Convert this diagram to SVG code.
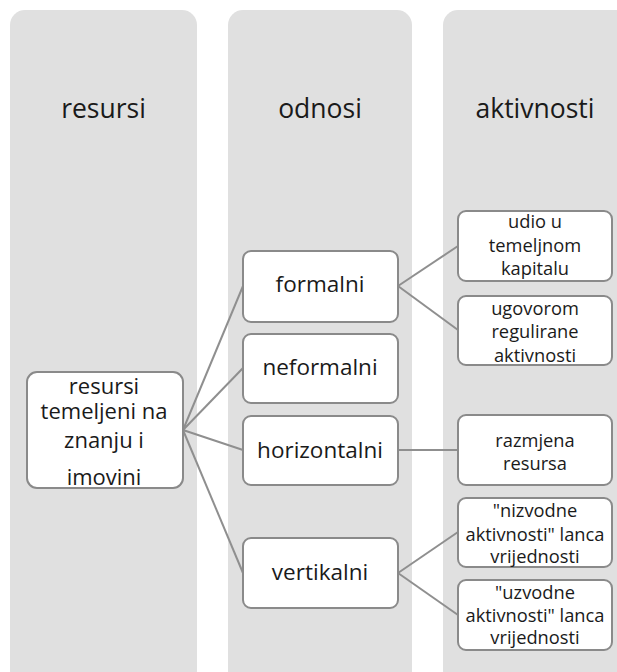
<svg xmlns="http://www.w3.org/2000/svg" width="617" height="672" viewBox="0 0 617 672">
<style>
.col{fill:#e0e0e0}
.node{fill:#ffffff;stroke:#8a8a8a;stroke-width:2}
.t{font-family:"Open Sans","Noto Sans","Liberation Sans",sans-serif;fill:#1a1a1a;text-anchor:middle}
.h{font-size:26.5px}
.r{font-size:22.5px}
.m{font-size:22px}
.s{font-size:18.3px}
.conn line{stroke:#8f8f8f;stroke-width:2}
</style>
<rect width="617" height="672" fill="#ffffff"/>
<g id="col-resursi"><rect class="col" x="10" y="10" width="187" height="675" rx="15"/><text class="t h" x="103.5" y="118">resursi</text></g>
<g id="col-odnosi"><rect class="col" x="228" y="10" width="184" height="675" rx="15"/><text class="t h" x="320" y="118">odnosi</text></g>
<g id="col-aktivnosti"><rect class="col" x="443" y="10" width="190" height="675" rx="15"/><text class="t h" x="535" y="118">aktivnosti</text></g>
<g class="conn" id="connectors">
<line x1="183" y1="430" x2="243" y2="286"/>
<line x1="183" y1="430" x2="243" y2="368"/>
<line x1="183" y1="430" x2="243" y2="450"/>
<line x1="183" y1="430" x2="243" y2="573"/>
<line x1="398" y1="286" x2="458" y2="246"/>
<line x1="398" y1="286" x2="458" y2="330"/>
<line x1="398" y1="450" x2="458" y2="450"/>
<line x1="398" y1="573" x2="458" y2="532"/>
<line x1="398" y1="573" x2="458" y2="615"/>
</g>
<g id="main"><rect class="node" x="27" y="372" width="156" height="116" rx="10"/>
<text class="t m" x="104" y="394">resursi</text><text class="t m" x="104" y="419">temeljeni na</text><text class="t m" x="104" y="448">znanju i</text><text class="t m" x="104" y="485">imovini</text></g>
<g id="formalni"><rect class="node" x="243" y="251" width="155" height="71" rx="8"/><text class="t r" x="320" y="292">formalni</text></g>
<g id="neformalni"><rect class="node" x="243" y="334" width="155" height="69" rx="8"/><text class="t r" x="320" y="375">neformalni</text></g>
<g id="horizontalni"><rect class="node" x="243" y="416" width="155" height="69" rx="8"/><text class="t r" x="320" y="458">horizontalni</text></g>
<g id="vertikalni"><rect class="node" x="243" y="538" width="155" height="70" rx="8"/><text class="t r" x="320" y="580">vertikalni</text></g>
<g id="udio"><rect class="node" x="458" y="211" width="154" height="70" rx="8"/><text class="t s" x="535" y="228">udio u</text><text class="t s" x="535" y="252">temeljnom</text><text class="t s" x="535" y="275">kapitalu</text></g>
<g id="ugovorom"><rect class="node" x="458" y="296" width="154" height="69" rx="8"/><text class="t s" x="535" y="315">ugovorom</text><text class="t s" x="535" y="338">regulirane</text><text class="t s" x="535" y="362">aktivnosti</text></g>
<g id="razmjena"><rect class="node" x="458" y="415" width="154" height="70" rx="8"/><text class="t s" x="535" y="447">razmjena</text><text class="t s" x="535" y="470">resursa</text></g>
<g id="nizvodne"><rect class="node" x="458" y="498" width="154" height="69" rx="8"/><text class="t s" x="535" y="517">"nizvodne</text><text class="t s" x="535" y="541">aktivnosti" lanca</text><text class="t s" x="535" y="563">vrijednosti</text></g>
<g id="uzvodne"><rect class="node" x="458" y="580" width="154" height="70" rx="8"/><text class="t s" x="535" y="599">"uzvodne</text><text class="t s" x="535" y="622">aktivnosti" lanca</text><text class="t s" x="535" y="644">vrijednosti</text></g>
</svg>
